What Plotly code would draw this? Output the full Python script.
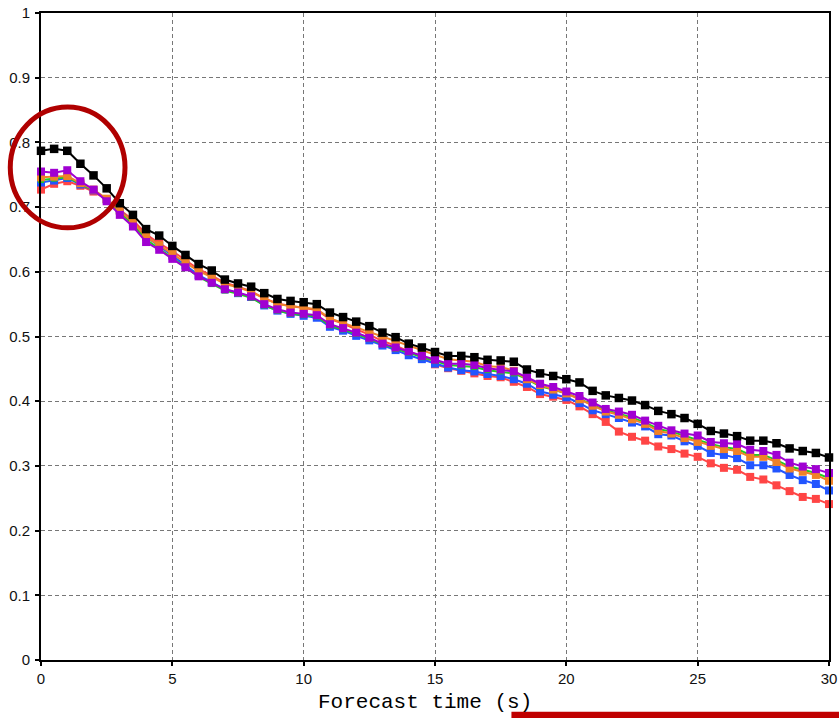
import plotly.graph_objects as go

# Forecast time (s): 0 to 30 every 0.5 s
forecast_time = [i * 0.5 for i in range(61)]

series_black = [0.787, 0.790, 0.787, 0.767, 0.749, 0.729, 0.706, 0.688, 0.666, 0.656, 0.640,
                0.626, 0.612, 0.602, 0.588, 0.582, 0.577, 0.567, 0.558, 0.555, 0.553,
                0.550, 0.537, 0.530, 0.523, 0.516, 0.506, 0.499, 0.489, 0.483, 0.476,
                0.470, 0.470, 0.468, 0.464, 0.463, 0.461, 0.449, 0.443, 0.439, 0.434,
                0.429, 0.416, 0.409, 0.405, 0.401, 0.394, 0.385, 0.380, 0.374, 0.365,
                0.354, 0.350, 0.346, 0.339, 0.339, 0.335, 0.327, 0.323, 0.320, 0.313]

series_purple = [0.755, 0.753, 0.757, 0.740, 0.727, 0.709, 0.688, 0.670, 0.646, 0.634, 0.620,
                 0.607, 0.593, 0.583, 0.573, 0.568, 0.562, 0.550, 0.542, 0.537, 0.535,
                 0.533, 0.519, 0.513, 0.506, 0.498, 0.489, 0.483, 0.477, 0.470, 0.464,
                 0.458, 0.458, 0.456, 0.451, 0.449, 0.446, 0.437, 0.427, 0.422, 0.415,
                 0.408, 0.398, 0.388, 0.384, 0.379, 0.370, 0.362, 0.355, 0.350, 0.347,
                 0.337, 0.335, 0.334, 0.325, 0.323, 0.317, 0.305, 0.299, 0.295, 0.289]

series_orange = [0.746, 0.747, 0.748, 0.737, 0.727, 0.713, 0.694, 0.677, 0.654, 0.641, 0.628,
                 0.615, 0.601, 0.592, 0.581, 0.576, 0.569, 0.559, 0.550, 0.547, 0.545,
                 0.542, 0.528, 0.521, 0.514, 0.507, 0.500, 0.493, 0.487, 0.480, 0.472,
                 0.465, 0.463, 0.461, 0.454, 0.453, 0.447, 0.434, 0.425, 0.418, 0.412,
                 0.403, 0.393, 0.384, 0.379, 0.372, 0.365, 0.354, 0.350, 0.343, 0.337,
                 0.331, 0.326, 0.323, 0.314, 0.314, 0.306, 0.296, 0.291, 0.286, 0.277]

series_green = [0.742, 0.744, 0.746, 0.736, 0.726, 0.711, 0.692, 0.673, 0.650, 0.636, 0.622,
                0.607, 0.592, 0.581, 0.571, 0.566, 0.560, 0.548, 0.540, 0.535, 0.533,
                0.531, 0.517, 0.511, 0.504, 0.496, 0.488, 0.481, 0.475, 0.468, 0.462,
                0.456, 0.455, 0.453, 0.448, 0.446, 0.443, 0.434, 0.423, 0.418, 0.412,
                0.404, 0.394, 0.386, 0.381, 0.375, 0.367, 0.357, 0.353, 0.346, 0.340,
                0.334, 0.329, 0.326, 0.317, 0.317, 0.309, 0.299, 0.294, 0.289, 0.281]

series_blue = [0.738, 0.741, 0.745, 0.735, 0.726, 0.712, 0.695, 0.676, 0.654, 0.640, 0.625,
               0.610, 0.595, 0.584, 0.573, 0.567, 0.561, 0.548, 0.540, 0.535, 0.532,
               0.529, 0.515, 0.509, 0.501, 0.494, 0.486, 0.479, 0.471, 0.465, 0.458,
               0.452, 0.448, 0.446, 0.442, 0.439, 0.434, 0.427, 0.415, 0.410, 0.406,
               0.397, 0.386, 0.380, 0.374, 0.367, 0.361, 0.349, 0.347, 0.338, 0.331,
               0.320, 0.317, 0.312, 0.301, 0.301, 0.296, 0.286, 0.278, 0.272, 0.262]

series_red = [0.727, 0.736, 0.740, 0.733, 0.724, 0.712, 0.696, 0.680, 0.658, 0.644, 0.632,
              0.618, 0.604, 0.594, 0.583, 0.577, 0.570, 0.559, 0.551, 0.547, 0.544,
              0.541, 0.527, 0.520, 0.511, 0.503, 0.493, 0.486, 0.477, 0.468, 0.457,
              0.451, 0.447, 0.443, 0.439, 0.437, 0.430, 0.422, 0.411, 0.407, 0.402,
              0.392, 0.380, 0.368, 0.353, 0.345, 0.339, 0.330, 0.326, 0.319, 0.314,
              0.304, 0.297, 0.294, 0.283, 0.279, 0.270, 0.261, 0.252, 0.249, 0.241]

x_ticks = [0, 5, 10, 15, 20, 25, 30]
y_ticks = [0, 0.1, 0.2, 0.3, 0.4, 0.5, 0.6, 0.7, 0.8, 0.9, 1]
y_tick_labels = ["0", "0.1", "0.2", "0.3", "0.4", "0.5", "0.6", "0.7", "0.8", "0.9", "1"]

traces = [
    ("red", series_red, "#ff4545", 8),
    ("blue", series_blue, "#2255ff", 8),
    ("green", series_green, "#22cc22", 6),
    ("orange", series_orange, "#f08228", 8),
    ("purple", series_purple, "#a000d2", 8),
    ("black", series_black, "#000000", 8.5),
]

fig = go.Figure()
for name, ys, color, msize in traces:
    fig.add_trace(go.Scatter(
        x=forecast_time, y=ys, name=name, mode="lines+markers",
        line=dict(color=color, width=2),
        marker=dict(symbol="square", size=msize, color=color),
        showlegend=False, cliponaxis=False,
    ))

# annotation ring and bottom bar (slide decorations), in paper coordinates
fig.add_shape(type="circle", xref="paper", yref="paper",
              x0=-0.039, x1=0.1066, y0=0.668, y1=0.8547,
              line=dict(color="#b00000", width=5), fillcolor="rgba(0,0,0,0)")
fig.add_shape(type="rect", xref="paper", yref="paper",
              x0=0.597, x1=1.02, y0=-0.095, y1=-0.080,
              line=dict(width=0), fillcolor="#c00000")

fig.add_annotation(text="Forecast time (s)", xref="paper", yref="paper",
                   x=0.487, y=-0.066, xanchor="center", yanchor="middle",
                   showarrow=False,
                   font=dict(family="Liberation Mono, Courier New, monospace", size=21, color="#000"))

axis_common = dict(
    showline=True, linecolor="#000", linewidth=2, mirror=True,
    ticks="outside", ticklen=4, tickwidth=1.5, tickcolor="#000",
    showgrid=True, gridcolor="#777", gridwidth=1, griddash="4px,3px",
    zeroline=False,
    tickfont=dict(family="Liberation Sans, Arial, sans-serif", size=15, color="#111"),
)

fig.update_xaxes(range=[0, 30], tickvals=x_ticks, ticktext=[str(v) for v in x_ticks],
                 ticklabelstandoff=0, **axis_common)
fig.update_yaxes(range=[0, 1], tickvals=y_ticks, ticktext=y_tick_labels,
                 ticklabelstandoff=2, **axis_common)

fig.update_layout(
    width=839, height=718,
    margin=dict(l=41, r=10, t=13, b=58, autoexpand=False),
    paper_bgcolor="#ffffff", plot_bgcolor="#ffffff",
    showlegend=False,
)

# remove the default page margin so the figure fills the window exactly
fig.write_html("out.html", config={"displayModeBar": False},
               post_script="document.body.style.margin='0px';")
